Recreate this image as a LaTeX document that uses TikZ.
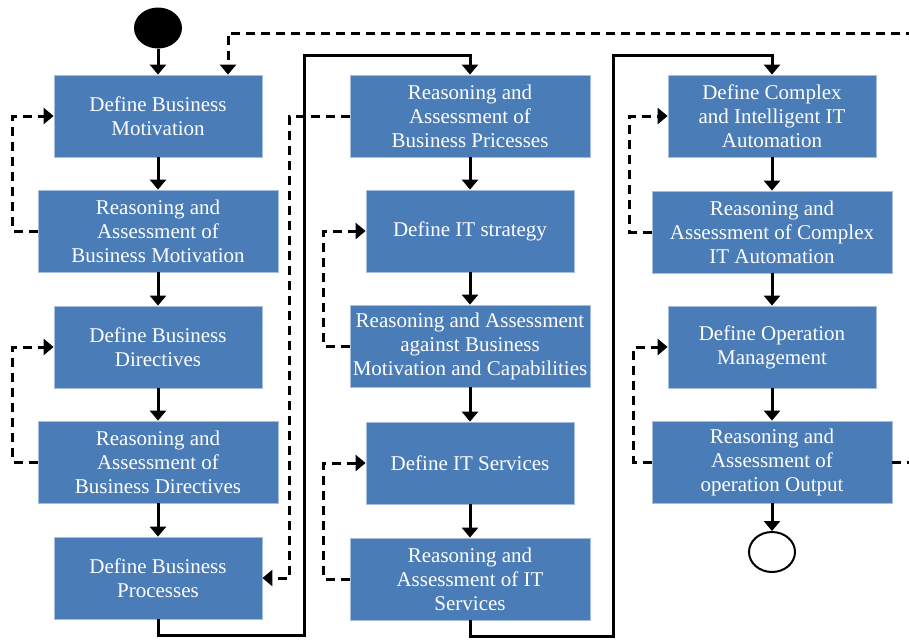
\documentclass[tikz,border=0pt]{standalone}
\usepackage{fontspec}
\setmainfont{Liberation Serif}
\usetikzlibrary{arrows.meta,shapes.geometric}
\definecolor{boxblue}{HTML}{4A7CB8}
\definecolor{boxedge}{HTML}{A7BFDE}
\begin{document}
\begin{tikzpicture}[
    x=1pt, y=-1pt,
    stage/.style={rectangle, draw=boxedge, line width=0.8pt, fill=boxblue, text=white, align=center, minimum width=208pt, minimum height=82pt, inner sep=0pt, font=\fontsize{21}{24}\selectfont},
    wide/.style={stage, minimum width=240pt},
    flow/.style={-{Triangle[length=10pt,width=16pt]}, line width=3pt},
    back/.style={-{Triangle[length=10pt,width=16pt]}, line width=3pt, dash pattern=on 9pt off 6pt}
]
\useasboundingbox (0,0) rectangle (909,641);

% Debut
\node[ellipse, fill=black, inner sep=0pt, minimum width=48pt, minimum height=41pt] (start) at (158,28) {};

% Colonne 1 : motivation et directives
\node[stage] (motiv) at (158,116) {Define Business\\Motivation};
\node[wide] (motivra) at (158,231) {Reasoning and\\Assessment of\\Business Motivation};
\node[stage] (direct) at (158,347) {Define Business\\Directives};
\node[wide] (directra) at (158,462) {Reasoning and\\Assessment of\\Business Directives};
\node[stage] (proc) at (158,578) {Define Business\\Processes};

% Colonne 2 : processus et services IT
\node[wide] (procra) at (470,116) {Reasoning and\\Assessment of\\Business Pricesses};
\node[stage] (strat) at (470,231) {Define IT strategy};
\node[wide] (stratra) at (470,346) {Reasoning and Assessment\\against Business\\Motivation and Capabilities};
\node[stage] (serv) at (470,463) {Define IT Services};
\node[wide] (servra) at (470,579) {Reasoning and\\Assessment of IT\\Services};

% Colonne 3 : automatisation et operations
\node[stage] (auto) at (772,116) {Define Complex\\and Intelligent IT\\Automation};
\node[wide] (autora) at (772,232) {Reasoning and\\Assessment of Complex\\IT Automation};
\node[stage] (oper) at (772,347) {Define Operation\\Management};
\node[wide] (operra) at (772,462) {Reasoning and\\Assessment of\\operation Output};

% Fin
\node[ellipse, draw, line width=2pt, fill=white, inner sep=0pt, minimum width=46pt, minimum height=40pt] (end) at (772,552) {};

% Flux principal
\draw[flow] (start) -- (motiv);
\draw[flow] (motiv) -- (motivra);
\draw[flow] (motivra) -- (direct);
\draw[flow] (direct) -- (directra);
\draw[flow] (directra) -- (proc);
\draw[flow] (proc.south) -- ++(0,16) -| (304,55) -| (procra.north);
\draw[flow] (procra) -- (strat);
\draw[flow] (strat) -- (stratra);
\draw[flow] (stratra) -- (serv);
\draw[flow] (serv) -- (servra);
\draw[flow] (servra.south) -- ++(0,16) -| (613,55) -| (auto.north);
\draw[flow] (auto) -- (autora);
\draw[flow] (autora) -- (oper);
\draw[flow] (oper) -- (operra);
\draw[flow] (operra) -- (end);

% Boucles de retour
\draw[back] (motivra.west) -- ++(-25,0) |- (motiv.west);
\draw[back] (directra.west) -- ++(-25,0) |- (direct.west);
\draw[back] (procra.west) -- ++(-60,0) |- (proc.east);
\draw[back] (stratra.west) -- ++(-26,0) |- (strat.west);
\draw[back] (servra.west) -- ++(-26,0) |- (serv.west);
\draw[back] (autora.west) -- ++(-22,0) |- (auto.west);
\draw[back] (operra.west) -- ++(-18,0) |- (oper.west);
\coordinate (top) at (228,33);
\draw[back] (operra.east) -- ++(22,0) |- (top) -- (top |- motiv.north);

\end{tikzpicture}
\end{document}
